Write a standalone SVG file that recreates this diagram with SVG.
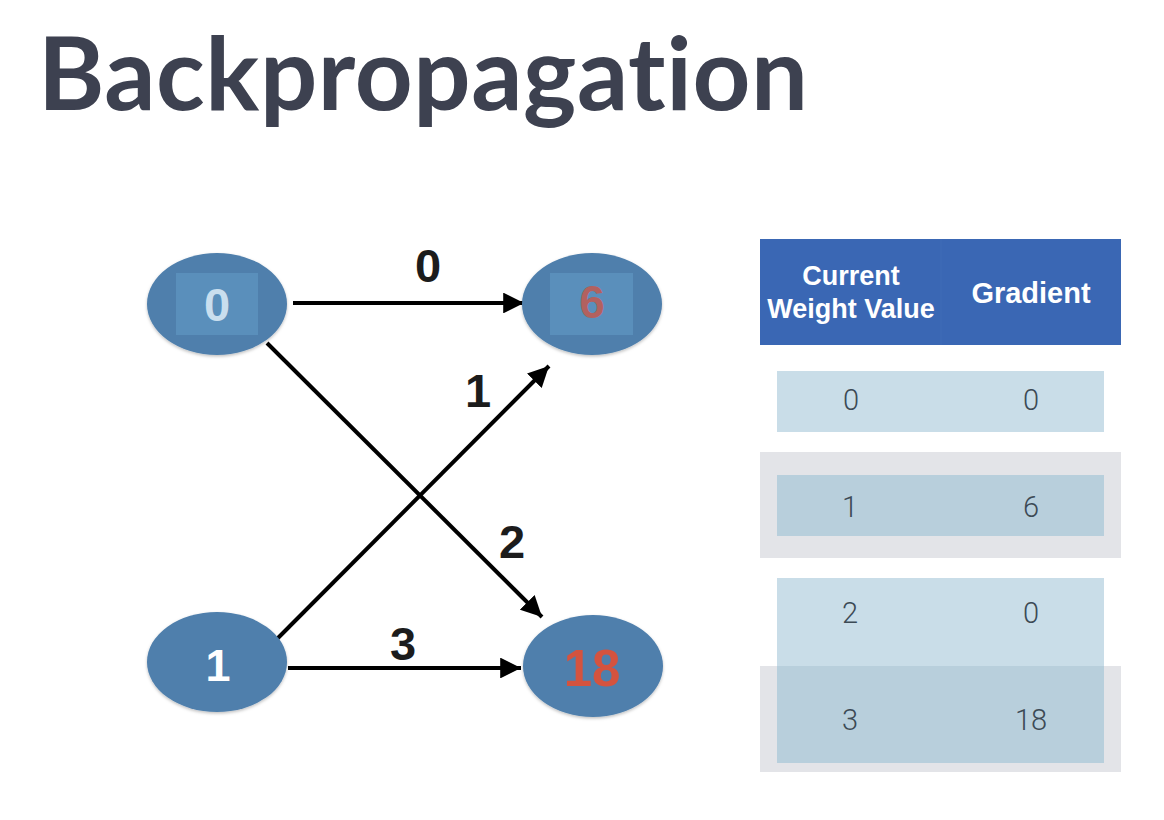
<svg xmlns="http://www.w3.org/2000/svg" width="1164" height="820" viewBox="0 0 1164 820">
  <defs>
    <filter id="soft" x="-10%" y="-10%" width="120%" height="125%">
      <feDropShadow dx="0" dy="1.5" stdDeviation="1.5" flood-color="#000" flood-opacity="0.25"/>
    </filter>
    <marker id="head" viewBox="0 0 10 10" refX="10" refY="5" markerWidth="5.2" markerHeight="5.2" markerUnits="strokeWidth" orient="auto">
      <path d="M0,0 L10,5 L0,10 Z" fill="#000"/>
    </marker>
  </defs>
  <style>
    .title { font-family: Lato, "Liberation Sans", sans-serif; font-weight: 700; font-size: 101px; fill: #3d4150; font-variant-ligatures: none; font-feature-settings: "liga" 0, "clig" 0, "dlig" 0; }
    .node { fill: #4f7fac; filter: url(#soft); }
    .inner { fill: #5a8fbb; }
    .ntext { font-family: "Liberation Sans", Arial, sans-serif; font-weight: 700; text-anchor: middle; }
    .edge { stroke: #000; stroke-width: 4; fill: none; marker-end: url(#head); }
    .elabel { font-family: "Liberation Sans", Arial, sans-serif; font-weight: 700; font-size: 47px; fill: #1c1c1c; text-anchor: middle; }
    .head { fill: #3a67b4; }
    .htext { font-family: "Liberation Sans", Arial, sans-serif; font-weight: 700; fill: #fff; text-anchor: middle; }
    .light { fill: #c9dde8; }
    .dark { fill: #b8cfdc; }
    .band { fill: #e3e4e8; }
    .cell { font-family: Roboto, "Liberation Sans", sans-serif; font-weight: 300; font-size: 29px; fill: #3c4a55; text-anchor: middle; }
  </style>

  <rect width="1164" height="820" fill="#fff"/>

  <text class="title" x="38" y="110" textLength="770" lengthAdjust="spacing">Backpropagation</text>

  <!-- connectors -->
  <g id="connectors">
    <line class="edge" x1="293" y1="303" x2="524" y2="303"/>
    <line class="edge" x1="267" y1="343" x2="542" y2="617"/>
    <line class="edge" x1="273" y1="643" x2="549" y2="366"/>
    <line class="edge" x1="288" y1="668" x2="521" y2="668"/>
    <text class="elabel" x="428" y="282">0</text>
    <text class="elabel" x="478" y="407">1</text>
    <text class="elabel" x="512" y="558">2</text>
    <text class="elabel" x="403" y="660">3</text>
  </g>

  <!-- input node 0 -->
  <g id="node-in0">
    <ellipse class="node" cx="217" cy="304" rx="70" ry="51"/>
    <rect class="inner" x="176" y="273" width="82" height="62"/>
    <text class="ntext" x="217" y="321" font-size="47" fill="#c9deee">0</text>
  </g>

  <!-- output node 6 -->
  <g id="node-out6">
    <ellipse class="node" cx="592" cy="304" rx="70" ry="51"/>
    <rect class="inner" x="550" y="273" width="83" height="62"/>
    <text class="ntext" x="592" y="318" font-size="46" fill="#b2615f">6</text>
  </g>

  <!-- input node 1 -->
  <g id="node-in1">
    <ellipse class="node" cx="217" cy="662" rx="70" ry="50"/>
    <text class="ntext" x="218" y="681" font-size="45" fill="#ffffff">1</text>
  </g>

  <!-- output node 18 -->
  <g id="node-out18">
    <ellipse class="node" cx="593" cy="666" rx="70" ry="51"/>
    <text class="ntext" x="592" y="686" font-size="51" fill="#d4533f">18</text>
  </g>

  <!-- weight / gradient table -->
  <g id="table-header">
    <rect class="head" x="760" y="239" width="361" height="106"/>
    <line x1="941" y1="239" x2="941" y2="345" stroke="#3f6cb6" stroke-width="1"/>
    <text class="htext" x="851" y="285" font-size="27">Current</text>
    <text class="htext" x="851" y="318" font-size="27">Weight Value</text>
    <text class="htext" x="1031" y="303" font-size="29">Gradient</text>
  </g>

  <g id="row-0">
    <rect class="light" x="777" y="371" width="327" height="61"/>
    <text class="cell" x="851" y="410">0</text>
    <text class="cell" x="1031" y="410">0</text>
  </g>

  <g id="row-1">
    <rect class="band" x="760" y="452" width="361" height="106"/>
    <rect class="dark" x="777" y="475" width="327" height="61"/>
    <text class="cell" x="850" y="517">1</text>
    <text class="cell" x="1031" y="517">6</text>
  </g>

  <g id="row-2">
    <rect class="light" x="777" y="578" width="327" height="88"/>
    <text class="cell" x="850" y="623">2</text>
    <text class="cell" x="1031" y="623">0</text>
  </g>

  <g id="row-3">
    <rect class="band" x="760" y="666" width="361" height="106"/>
    <rect class="dark" x="777" y="666" width="327" height="97"/>
    <text class="cell" x="850" y="730">3</text>
    <text class="cell" x="1031" y="730">18</text>
  </g>
</svg>
